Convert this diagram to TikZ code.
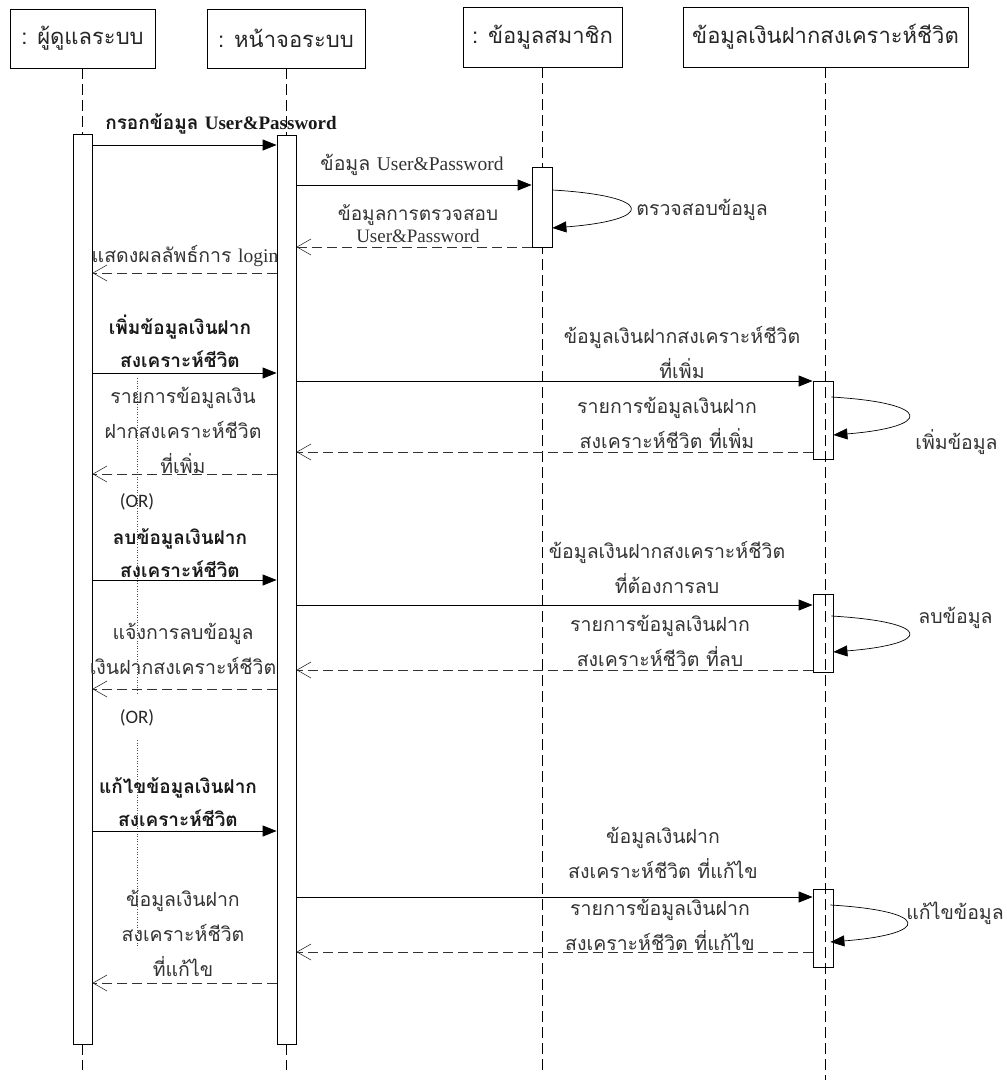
\documentclass[tikz,border=0pt]{standalone}
\usepackage{fontspec}
\setmainfont{Liberation Serif}
\newfontfamily\thai[Script=Thai]{Loma}
\newfontfamily\lat{Liberation Serif}
\newfontfamily\orfont{Carlito}
\usetikzlibrary{arrows.meta}
\begin{document}
\begin{tikzpicture}[x=1pt,y=-1pt,
  line width=0.8pt,
  hdr/.style={draw, inner sep=0pt, font=\thai\fontsize{22}{26}\selectfont, text=black!85},
  lifeline/.style={dash pattern=on 11pt off 5pt, line width=0.7pt},
  act/.style={draw, fill=white, inner sep=0pt, minimum width=19pt},
  actopen/.style={draw, inner sep=0pt, minimum width=20pt},
  msg/.style={-{Triangle[length=14pt,width=11pt]}},
  ret/.style={dash pattern=on 10pt off 5pt, -{Straight Barb[length=14pt,width=16pt,line width=0.6pt]}, black!80},
  selfm/.style={-{Triangle[length=14pt,width=11pt]}, line width=0.7pt},
  lbl/.style={font=\thai\fontsize{19.5}{35}\selectfont, align=center, inner sep=0pt, text=black!80},
  blbl/.style={font=\thai\bfseries\fontsize{19}{33}\selectfont, align=center, inner sep=0pt, text=black!90},
  orlbl/.style={font=\orfont\fontsize{19}{22}\selectfont, inner sep=0pt, text=black!85},
  dots/.style={dotted, line width=0.6pt, black!70}
]
\useasboundingbox (0,0) rectangle (1007,1082);

% headers
\node[hdr, minimum width=145pt, minimum height=59pt] (h1) at (82.5,38.5) {: ผู้ดูแลระบบ};
\node[hdr, minimum width=158pt, minimum height=59pt] (h2) at (286,38.5) {: หน้าจอระบบ};
\node[hdr, minimum width=159pt, minimum height=60pt] (h3) at (542.5,37) {: ข้อมูลสมาชิก};
\node[hdr, minimum width=285pt, minimum height=60pt] (h4) at (825.5,37) {ข้อมูลเงินฝากสงเคราะห์ชีวิต};

% lifeline ends
\coordinate (e1) at (82,1070);
\coordinate (e2) at (286,1070);
\coordinate (e3) at (542,1070);
\coordinate (e4) at (825,1080);
\draw[lifeline] (h1.south -| e1) -- (e1);
\draw[lifeline] (h2.south -| e2) -- (e2);
\draw[lifeline] (h3.south -| e3) -- (e3);
\draw[lifeline] (h4.south -| e4) -- (e4);

% activations
\node[act, minimum height=910pt] (A1) at (82.5,589) {};
\node[act, minimum height=909pt] (A2) at (286.5,589.5) {};
\node[act, minimum height=80pt, minimum width=20pt] (A3) at (542,207) {};
\node[actopen, minimum height=78pt] (A4a) at (823,420) {};
\node[actopen, minimum height=78pt] (A4b) at (823,633) {};
\node[actopen, minimum height=78pt] (A4c) at (823,928) {};

% dotted guide lines
\coordinate (d1a) at (137,378);
\coordinate (d1b) at (137,693);
\coordinate (d2a) at (137,740);
\coordinate (d2b) at (137,948);
\draw[dots] (d1a) -- (d1b);
\draw[dots] (d2a) -- (d2b);

% message levels
\coordinate (y1) at (0,145);
\coordinate (y2) at (0,185);
\coordinate (y3) at (0,247);
\coordinate (y4) at (0,273);
\coordinate (y5) at (0,373);
\coordinate (y6) at (0,381);
\coordinate (y7) at (0,452);
\coordinate (y8) at (0,474);
\coordinate (y9) at (0,580);
\coordinate (y10) at (0,605);
\coordinate (y11) at (0,670);
\coordinate (y12) at (0,689);
\coordinate (y13) at (0,831);
\coordinate (y14) at (0,897);
\coordinate (y15) at (0,952);
\coordinate (y16) at (0,983);

\draw[msg] (A1.east |- y1) -- (A2.west |- y1);
\draw[msg] (A2.east |- y2) -- (A3.west |- y2);
\draw[ret] (A3.west |- y3) -- (A2.east |- y3);
\draw[ret] (A2.west |- y4) -- (A1.east |- y4);
\draw[msg] (A1.east |- y5) -- (A2.west |- y5);
\draw[msg] (A2.east |- y6) -- (A4a.west |- y6);
\draw[ret] (A4a.west |- y7) -- (A2.east |- y7);
\draw[ret] (A2.west |- y8) -- (A1.east |- y8);
\draw[msg] (A1.east |- y9) -- (A2.west |- y9);
\draw[msg] (A2.east |- y10) -- (A4b.west |- y10);
\draw[ret] (A4b.west |- y11) -- (A2.east |- y11);
\draw[ret] (A2.west |- y12) -- (A1.east |- y12);
\draw[msg] (A1.east |- y13) -- (A2.west |- y13);
\draw[msg] (A2.east |- y14) -- (A4c.west |- y14);
\draw[ret] (A4c.west |- y15) -- (A2.east |- y15);
\draw[ret] (A2.west |- y16) -- (A1.east |- y16);

% self messages
\coordinate (s1a) at (0,190); \coordinate (s1b) at (0,228);
\coordinate (s2a) at (0,397); \coordinate (s2b) at (0,435);
\coordinate (s3a) at (0,616); \coordinate (s3b) at (0,652);
\coordinate (s4a) at (0,905); \coordinate (s4b) at (0,942);
\draw[selfm] (A3.east |- s1a) .. controls +(103,6) and +(103,-8) .. (A3.east |- s1b);
\draw[selfm] ([xshift=-2pt]A4a.east |- s2a) .. controls +(102,6) and +(100,-8) .. (A4a.east |- s2b);
\draw[selfm] ([xshift=-2pt]A4b.east |- s3a) .. controls +(102,6) and +(100,-8) .. (A4b.east |- s3b);
\draw[selfm] ([xshift=-3pt]A4c.east |- s4a) .. controls +(101,6) and +(101,-8) .. ([xshift=-3pt]A4c.east |- s4b);

% labels
\node[blbl] (l1) at (221,124) {กรอกข้อมูล {\lat\bfseries User\&Password}};
\node[lbl] (l2) at (412,165) {ข้อมูล {\lat User\&Password}};
\node[lbl, font=\thai\fontsize{19}{22}\selectfont] (l3) at (418,224) {ข้อมูลการตรวจสอบ\\{\lat User\&Password}};
\node[lbl, anchor=west] (l4) at (636,210) {ตรวจสอบข้อมูล};
\node[lbl] (l5) at (185,256) {แสดงผลลัพธ์การ {\lat login}};
\node[blbl] (l6) at (180,341) {เพิ่มข้อมูลเงินฝาก\\สงเคราะห์ชีวิต};
\node[lbl] (l7) at (682,352) {ข้อมูลเงินฝากสงเคราะห์ชีวิต\\ที่เพิ่ม};
\node[lbl] (l8) at (667,423) {รายการข้อมูลเงินฝาก\\สงเคราะห์ชีวิต ที่เพิ่ม};
\node[lbl, anchor=west] (l9) at (915,442) {เพิ่มข้อมูล};
\node[lbl] (l10) at (183,430) {รายการข้อมูลเงิน\\ฝากสงเคราะห์ชีวิต\\ที่เพิ่ม};
\node[orlbl] (or1) at (137,502) {(OR)};
\node[blbl] (l11) at (180,553) {ลบข้อมูลเงินฝาก\\สงเคราะห์ชีวิต};
\node[lbl] (l12) at (667,567) {ข้อมูลเงินฝากสงเคราะห์ชีวิต\\ที่ต้องการลบ};
\node[lbl] (l13) at (660,641) {รายการข้อมูลเงินฝาก\\สงเคราะห์ชีวิต ที่ลบ};
\node[lbl, anchor=west] (l14) at (918,618) {ลบข้อมูล};
\node[lbl] (l15) at (183,649) {แจ้งการลบข้อมูล\\เงินฝากสงเคราะห์ชีวิต};
\node[orlbl] (or2) at (137,718) {(OR)};
\node[blbl] (l16) at (178,802) {แก้ไขข้อมูลเงินฝาก\\สงเคราะห์ชีวิต};
\node[lbl] (l17) at (663,853) {ข้อมูลเงินฝาก\\สงเคราะห์ชีวิต ที่แก้ไข};
\node[lbl] (l18) at (660,925) {รายการข้อมูลเงินฝาก\\สงเคราะห์ชีวิต ที่แก้ไข};
\node[lbl, anchor=west] (l19) at (906,913) {แก้ไขข้อมูล};
\node[lbl] (l20) at (183,933) {ข้อมูลเงินฝาก\\สงเคราะห์ชีวิต\\ที่แก้ไข};
\end{tikzpicture}
\end{document}
